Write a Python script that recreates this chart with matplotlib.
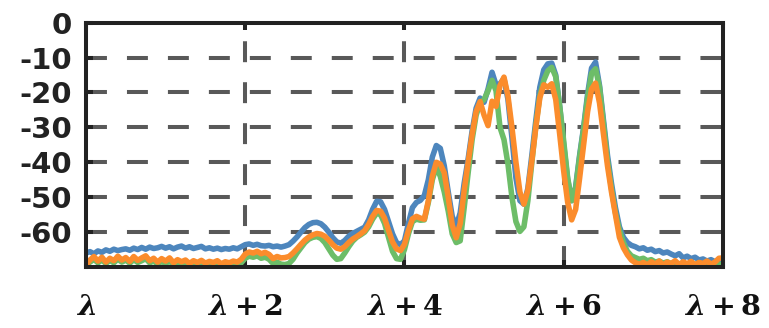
import numpy as np
import matplotlib
matplotlib.use("Agg")
import matplotlib.pyplot as plt

plt.rcParams['mathtext.fontset'] = 'custom'
plt.rcParams['mathtext.rm'] = 'DejaVu Serif:bold'
plt.rcParams['mathtext.bf'] = 'DejaVu Serif:bold'
plt.rcParams['mathtext.it'] = 'DejaVu Serif:bold:italic'

# wavelength offset grid (units of the tick spacing, lambda .. lambda+8)
wavelength = np.linspace(0.0, 8.0, 161)

# transmitted power (dB) for the three measurements
power_blue = [
    -66.0, -65.6, -66.2, -65.4, -65.8, -65.1, -65.5, -64.9, -65.3, -65.0,
    -64.8, -65.2, -64.6, -65.0, -64.4, -64.9, -64.3, -64.7, -64.5, -64.1,
    -64.6, -64.2, -64.8, -64.3, -64.0, -64.6, -64.2, -64.7, -64.4, -64.1,
    -64.8, -64.5, -64.9, -64.6, -65.0, -64.7, -64.9, -64.5, -64.8, -64.2,
    -63.6, -63.4, -63.8, -63.5, -63.9, -64.0, -63.8, -64.2, -64.0, -64.3,
    -64.0, -63.6, -62.6, -61.4, -60.0, -58.7, -57.8, -57.3, -57.2, -57.6,
    -58.6, -60.0, -61.6, -62.8, -63.2, -62.4, -61.2, -60.4, -59.8, -59.2,
    -58.6, -56.5, -53.5, -51.2, -51.3, -53.5, -57.0, -60.5, -63.0, -63.6,
    -62.5, -57.5, -53.0, -51.5, -50.9, -49.5, -45.0, -38.5, -35.2, -36.0,
    -41.0, -48.5, -55.5, -58.3, -54.5, -46.0, -39.0, -31.0, -24.5, -21.6,
    -22.8, -19.0, -14.2, -17.8, -17.5, -16.0, -22.0, -33.0, -44.5, -51.0,
    -52.0, -47.5, -38.0, -28.0, -18.5, -13.5, -11.8, -11.6, -15.0, -24.0,
    -35.0, -45.0, -51.0, -47.0, -38.0, -30.0, -20.5, -13.0, -11.3, -18.0,
    -28.0, -38.0, -46.0, -53.0, -58.5, -61.5, -63.0, -63.8, -64.2, -64.8,
    -64.5, -65.2, -64.9, -65.6, -65.3, -66.0, -65.7, -66.3, -66.8, -66.2,
    -67.4, -66.9, -67.6, -67.2, -68.0, -67.7, -68.3, -67.9, -68.5, -68.2,
    -68.6,
]

power_green = [
    -69.6, -68.6, -67.8, -68.8, -68.0, -69.0, -68.1, -68.8, -67.7, -68.6,
    -68.0, -68.9, -67.9, -68.7, -68.2, -67.6, -68.8, -68.3, -69.2, -68.4,
    -69.0, -68.3, -69.4, -68.7, -69.2, -68.9, -69.6, -69.1, -69.4, -68.9,
    -69.5, -69.9, -69.3, -70.0, -69.6, -69.1, -69.5, -69.0, -69.3, -68.8,
    -67.5, -66.9, -67.2, -66.8, -67.5, -67.2, -67.8, -69.0, -68.6, -69.2,
    -69.3, -69.0, -67.8, -66.0, -64.5, -63.0, -62.0, -61.5, -61.3, -61.8,
    -63.0, -64.8, -66.6, -67.8, -67.6, -66.0, -64.2, -62.6, -61.5, -60.8,
    -60.0, -58.5, -56.3, -54.6, -55.0, -57.5, -61.5, -65.5, -67.6, -67.8,
    -65.0, -60.5, -57.0, -56.3, -56.6, -56.5, -51.5, -45.0, -41.3, -44.0,
    -48.5, -54.0, -60.5, -63.0, -62.5, -53.0, -43.0, -33.5, -26.5, -23.0,
    -22.0, -19.5, -16.5, -19.5, -30.0, -33.5, -40.5, -50.0, -57.0, -59.8,
    -58.5, -51.0, -40.0, -29.5, -21.0, -16.5, -13.8, -12.8, -15.5, -24.0,
    -34.0, -44.5, -51.0, -47.5, -38.5, -30.5, -21.5, -14.5, -13.2, -18.5,
    -29.0, -39.5, -47.5, -54.5, -59.5, -63.0, -65.5, -66.8, -67.3, -67.8,
    -67.5, -68.2, -67.9, -68.6, -68.3, -68.9, -68.5, -69.1, -68.7, -69.2,
    -68.9, -69.4, -69.0, -69.3, -68.8, -69.4, -69.1, -69.5, -69.0, -69.3,
    -69.2,
]

power_orange = [
    -69.5, -68.0, -67.0, -68.3, -67.2, -68.6, -67.5, -68.2, -66.9, -68.0,
    -67.3, -68.4, -67.0, -68.1, -67.4, -66.8, -68.2, -67.5, -68.6, -67.6,
    -68.3, -67.4, -68.8, -67.9, -68.5, -68.0, -69.0, -68.2, -68.7, -68.1,
    -68.9, -68.4, -68.7, -68.2, -69.1, -68.5, -68.8, -68.3, -68.6, -67.8,
    -66.3, -65.7, -66.0, -65.5, -66.2, -65.8, -66.4, -67.6, -67.0, -67.4,
    -67.3, -67.0, -66.0, -64.8, -63.5, -62.3, -61.4, -60.8, -60.4, -60.6,
    -61.2, -62.3, -63.6, -64.6, -64.9, -64.2, -63.0, -62.0, -61.3, -60.5,
    -59.6, -57.8, -55.5, -53.8, -54.0, -56.0, -59.5, -62.8, -64.8, -65.3,
    -63.5, -59.5, -56.2, -55.5, -56.0, -56.3, -51.0, -44.0, -40.0, -40.5,
    -43.0, -50.0, -58.0, -61.6, -57.5, -48.0, -40.0, -32.0, -25.5, -22.6,
    -26.5, -29.5, -22.5, -24.0, -18.0, -15.6, -21.0, -30.0, -40.0, -48.5,
    -52.0, -48.0, -39.5, -30.0, -21.5, -17.8, -18.5, -17.5, -22.0, -32.0,
    -42.5, -51.5, -56.5, -53.5, -44.5, -35.0, -25.5, -19.0, -17.3, -23.0,
    -32.0, -41.0, -48.5, -55.0, -61.5, -64.5, -66.5, -68.0, -68.8, -69.2,
    -68.7, -69.4, -68.5, -69.2, -68.3, -69.5, -68.6, -69.0, -68.2, -69.3,
    -68.5, -69.1, -68.4, -69.4, -68.7, -69.0, -68.3, -69.2, -68.6, -67.5,
    -67.4,
]

y_ticks = [0, -10, -20, -30, -40, -50, -60]
y_tick_labels = ['0', '-10', '-20', '-30', '-40', '-50', '-60']
x_ticks = [0, 2, 4, 6, 8]
x_tick_labels = [r'$\lambda$', r'$\lambda+2$', r'$\lambda+4$',
                 r'$\lambda+6$', r'$\lambda+8$']

fig = plt.figure(figsize=(7.69, 3.28), dpi=100)
ax = fig.add_axes([0.1118, 0.186, 0.8283, 0.7448])

grid_kw = dict(color='#595959', linewidth=2.9, linestyle=(0, (5.2, 4.97)),
               zorder=1, solid_capstyle='butt', dash_capstyle='butt')
for yv in y_ticks[1:]:
    ax.axhline(yv, **grid_kw)
for xv in x_ticks[1:-1]:
    ax.axvline(xv, **grid_kw)

line_kw = dict(linewidth=4.0, solid_joinstyle='round', solid_capstyle='round', zorder=2)
ax.plot(wavelength, power_blue, color='#4d86bd', **line_kw)
ax.plot(wavelength, power_green, color='#6dbd68', **line_kw)
ax.plot(wavelength, power_orange, color='#fb8c2c', **line_kw)

ax.set_xlim(0, 8)
ax.set_ylim(-70, 0)

ax.set_yticks(y_ticks)
ax.set_yticklabels(y_tick_labels, fontfamily='DejaVu Sans', fontweight='bold',
                   fontsize=21, color='#222222')
ax.set_xticks(x_ticks)
ax.set_xticklabels(x_tick_labels, fontsize=20.5, color='#111111')

ax.tick_params(axis='y', direction='in', length=5, width=2.9, color='#222222',
               pad=10, left=True, right=False)
ax.tick_params(axis='x', direction='in', length=5, width=2.9, color='#222222',
               pad=19, top=True, bottom=True)

for sp in ax.spines.values():
    sp.set_linewidth(2.9)
    sp.set_color('#222222')
    sp.set_zorder(3)

fig.savefig('out.png', dpi=100)
